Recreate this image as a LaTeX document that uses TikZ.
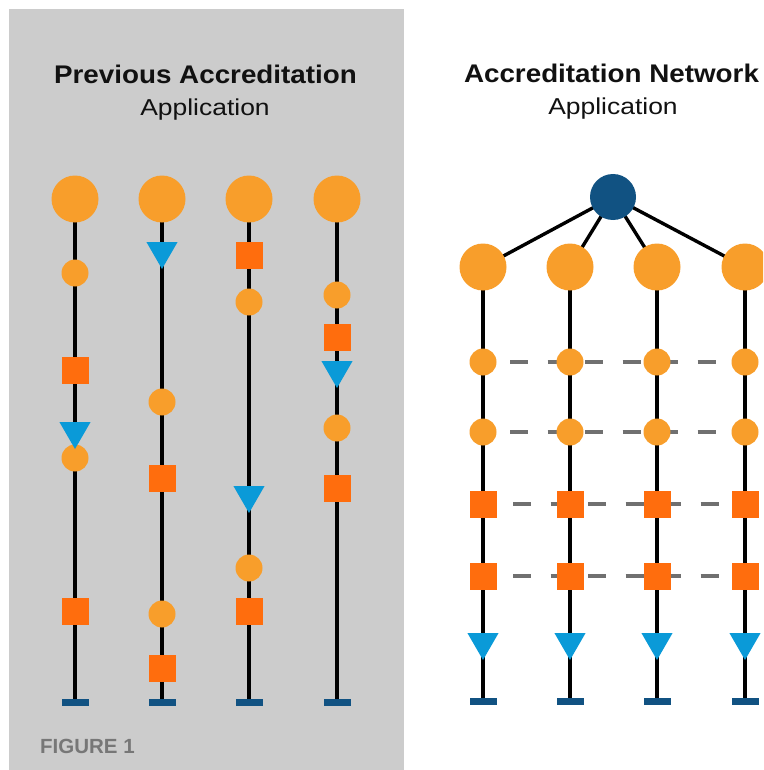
\documentclass[tikz,border=0pt]{standalone}
\usepackage{fontspec}
\usetikzlibrary{shapes.geometric,backgrounds}
\newfontfamily\headfont[FakeStretch=1.09]{Liberation Sans}
\newfontfamily\subfont[FakeStretch=1.15]{Liberation Sans}
\newfontfamily\capfont{Liberation Sans}
\definecolor{panelgray}{HTML}{CCCCCC}
\definecolor{dotorange}{HTML}{F89E2B}
\definecolor{boxorange}{HTML}{FF6D0D}
\definecolor{triblue}{HTML}{0A9AD8}
\definecolor{navy}{HTML}{115282}
\definecolor{dashgray}{HTML}{707070}
\definecolor{inktext}{HTML}{111111}
\tikzset{
  big/.style={circle, fill=dotorange, minimum size=47, inner sep=0, outer sep=0},
  dot/.style={circle, fill=dotorange, minimum size=27, inner sep=0, outer sep=0},
  box/.style={rectangle, fill=boxorange, minimum size=27, inner sep=0, outer sep=0},
  tri/.style={regular polygon, regular polygon sides=3, shape border rotate=180,
    fill=triblue, minimum size=36, inner sep=0, outer sep=0},
  bar/.style={rectangle, fill=navy, minimum width=27, minimum height=7, inner sep=0, outer sep=0},
  hub/.style={circle, fill=navy, minimum size=46, inner sep=0, outer sep=0},
  stem/.style={draw=black, line width=3.4},
  link/.style={draw=dashgray, line width=3.4, dash pattern=on 18 off 19.5, dash phase=10.5},
  title/.style={font=\headfont\bfseries\fontsize{25.5}{30}\selectfont, text=inktext, anchor=base, inner sep=0},
  subtitle/.style={font=\subfont\fontsize{23}{28}\selectfont, text=inktext, anchor=base, inner sep=0},
}
\begin{document}
\begin{tikzpicture}[x=1pt,y=-1pt]
\clip (0,0) rectangle (763,770);

% ---------- left panel: independent applications ----------
\node[title] (lt) at (205.5,84) {Previous Accreditation};
\node[subtitle] (ls) at (205,115.5) {Application};

% column 1
\node[big] (a0) at (75,199) {};
\node[dot] (a1) at (75,273) {};
\node[box] (a2) at (75,370) {};
\node[dot] (a4) at (75,458) {};
\node[tri] (a3) at (75,431) {};
\node[box] (a5) at (75,611) {};
\node[bar] (ae) at (75,702) {};
% column 2
\node[big] (b0) at (162,199) {};
\node[tri] (b1) at (162,251) {};
\node[dot] (b2) at (162,402) {};
\node[box] (b3) at (162,478) {};
\node[dot] (b4) at (162,614) {};
\node[box] (b5) at (162,668) {};
\node[bar] (be) at (162,702) {};
% column 3
\node[big] (c0) at (249,199) {};
\node[box] (c1) at (249,255) {};
\node[dot] (c2) at (249,302) {};
\node[tri] (c3) at (249,495) {};
\node[dot] (c4) at (249,568) {};
\node[box] (c5) at (249,611) {};
\node[bar] (ce) at (249,702) {};
% column 4
\node[big] (d0) at (337,199) {};
\node[dot] (d1) at (337,295) {};
\node[box] (d2) at (337,337) {};
\node[tri] (d3) at (337,370) {};
\node[dot] (d4) at (337,428) {};
\node[box] (d5) at (337,488) {};
\node[bar] (de) at (337,702) {};

\node[font=\capfont\bfseries\fontsize{20.5}{24}\selectfont, text=dashgray!95!white,
      anchor=base west, inner sep=0] (fig) at (40,753) {FIGURE 1};

% ---------- right panel: shared network ----------
\node[title] (rt) at (611.5,83) {Accreditation Network};
\node[subtitle] (rs) at (613,115) {Application};

\node[hub] (hub) at (613,197) {};
\foreach \c/\x in {p/483, q/570, r/657, s/745}{
  \node[big] (\c0) at (\x,267) {};
  \node[dot] (\c1) at (\x,362) {};
  \node[dot] (\c2) at (\x,432) {};
  \node[box] (\c3) at (\x,504) {};
  \node[box] (\c4) at (\x,576) {};
  \node[tri] (\c5) at (\x,642) {};
  \node[bar] (\c e) at (\x,701) {};
}

\begin{scope}[on background layer]
  \fill[white] (0,0) rectangle (763,770);
  \fill[panelgray] (9,9) rectangle (404,770);
  % lifelines
  \foreach \c in {a,b,c,d,p,q,r,s}
    \draw[stem] (\c0.center) -- (\c e.center);
  % hub links
  \foreach \c in {p,q,r,s}
    \draw[stem] (hub.center) -- (\c0.center);
  % shared rows
  \foreach \k in {1,2}
    \draw[link] (p\k.center) -- (s\k.center);
  \foreach \k in {3,4}
    \draw[link, dash phase=7.5] (p\k.center) -- (s\k.center);
\end{scope}
\end{tikzpicture}
\end{document}
